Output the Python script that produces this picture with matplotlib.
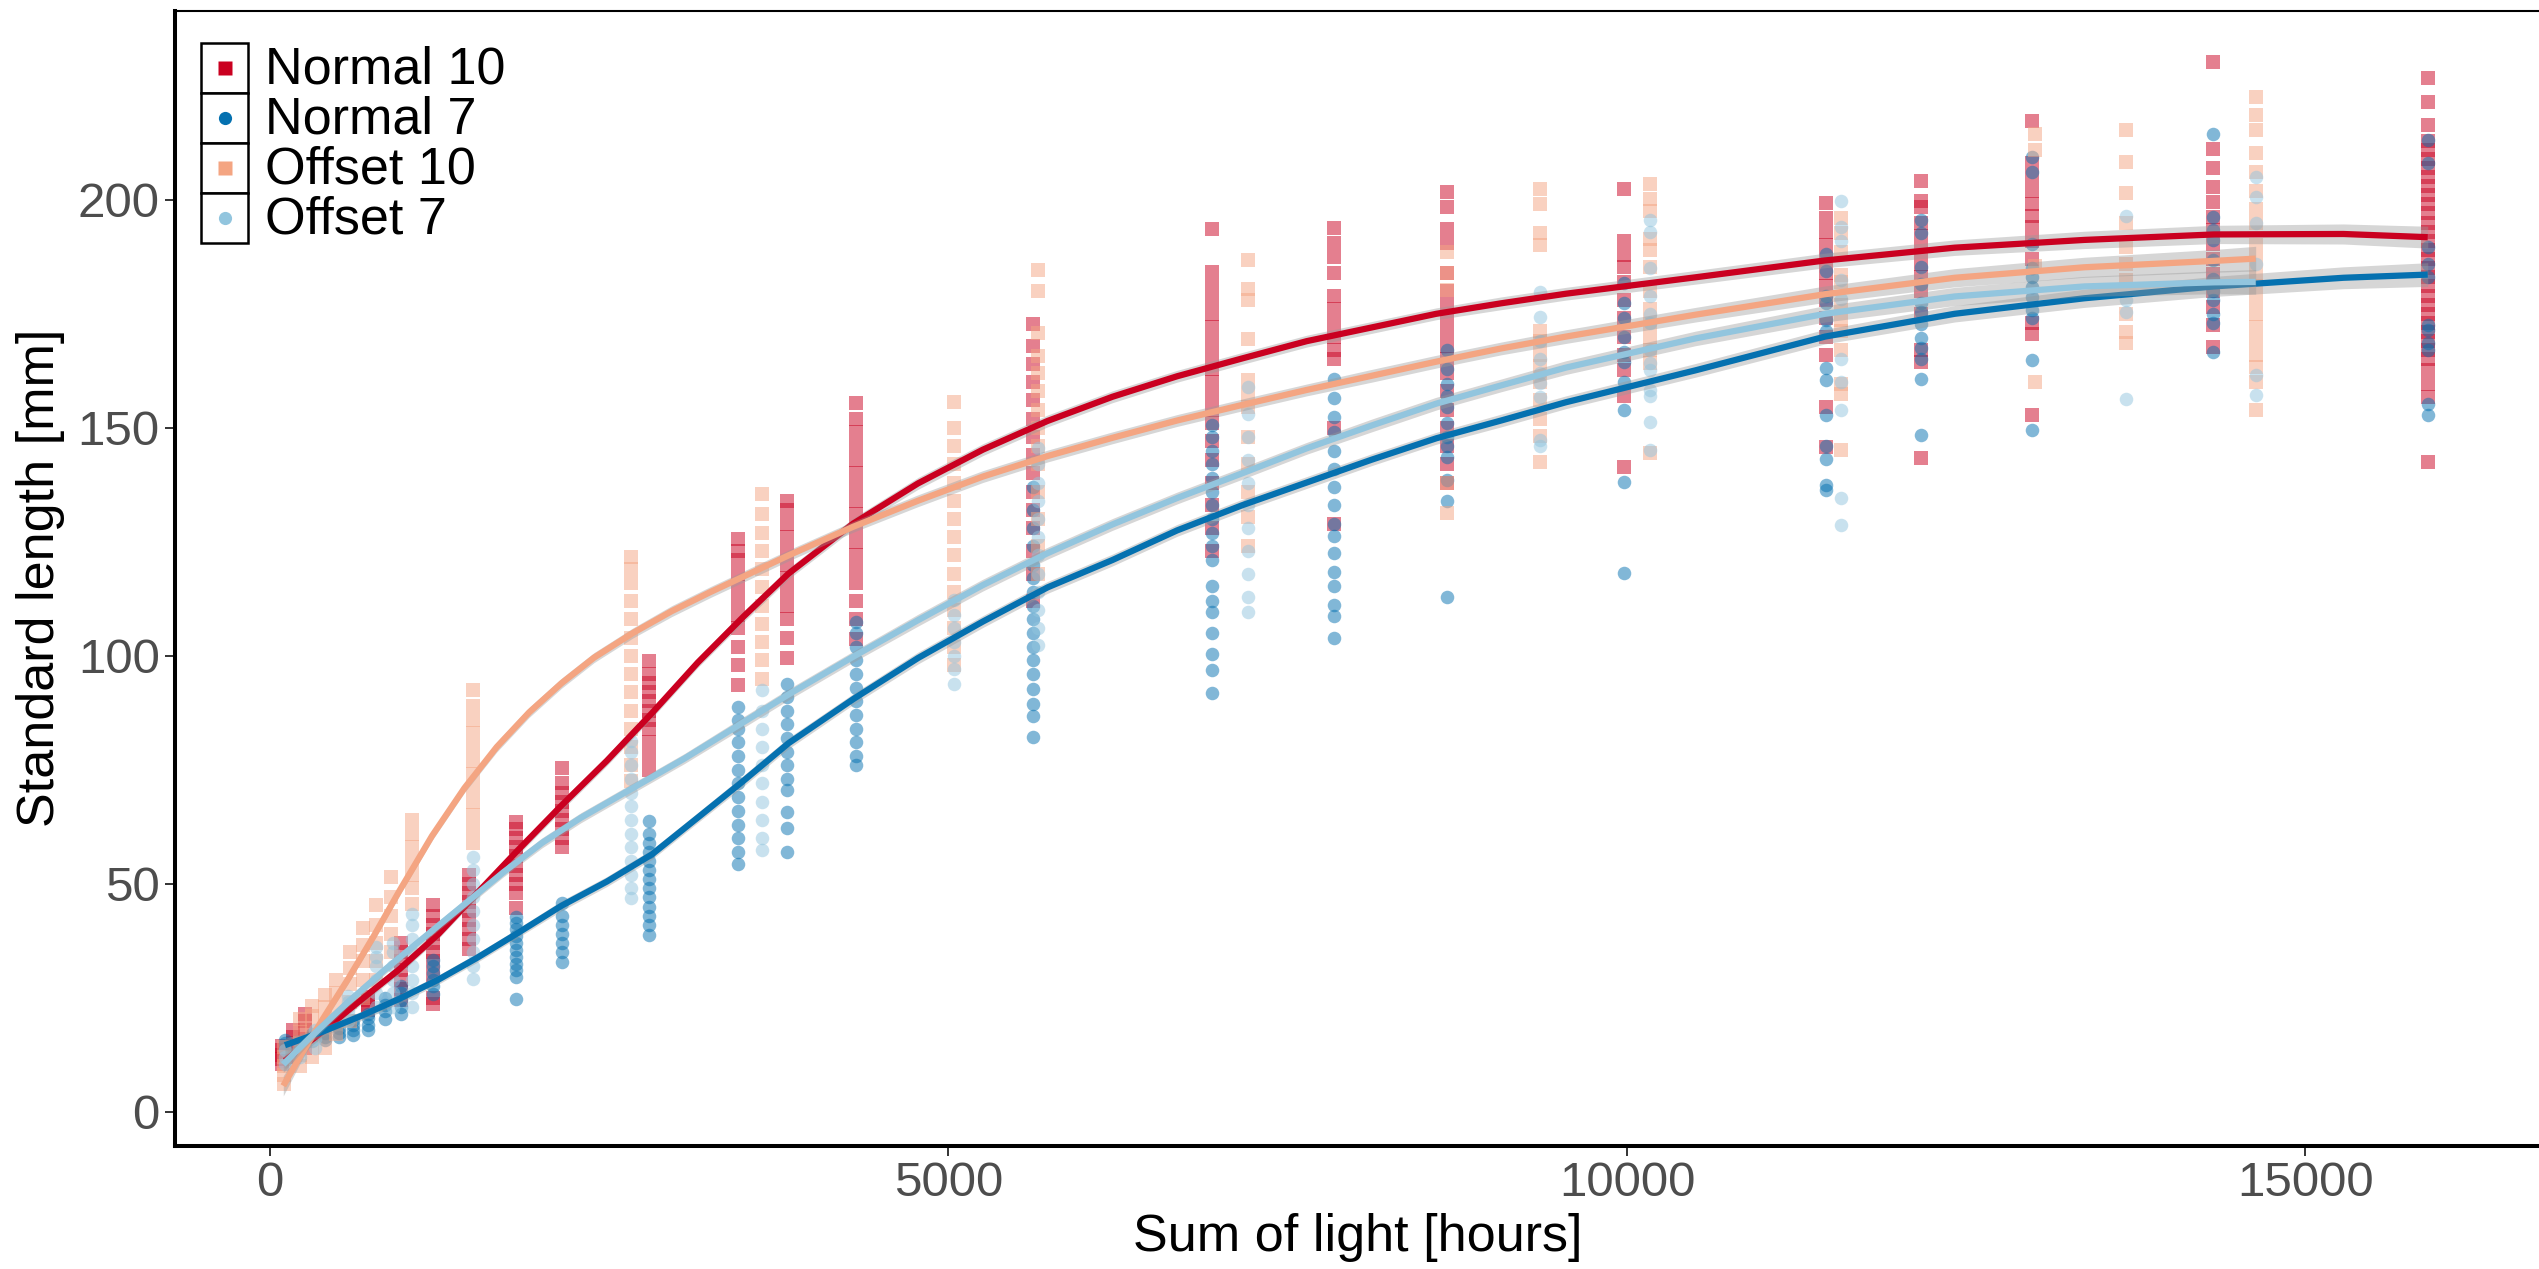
import numpy as np
import matplotlib
matplotlib.use('Agg')
import matplotlib.pyplot as plt
from matplotlib.patches import Rectangle

plt.rcParams['font.family'] = ['Liberation Sans', 'DejaVu Sans']

# ---- data: sampling times (sum of light, hours) and standard lengths (mm) ----
groups = ['Normal 10', 'Normal 7', 'Offset 10', 'Offset 7']

n10_x = [86, 172, 258, 720, 967, 1199, 1469, 1812, 2154, 2791, 3450, 3813, 4322,
         5624, 6945, 7841, 8673, 9980, 11465, 12165, 12988, 14315, 15901]
n10_y = [
    [10.5, 11.5, 12.5, 13.5, 14.5],
    [12, 13.5, 15, 16.5, 18],
    [14, 16, 18, 20, 21.5],
    [22.3, 23.5, 24.5, 25.2],
    [24.5, 27, 29, 31, 33, 35, 37],
    [23.7, 25, 30, 33, 35, 37, 39, 41, 43, 45.3],
    [35.7, 38, 40, 42, 44, 46, 48, 50, 52],
    [44.7, 48, 50, 52, 54, 56, 58, 60, 62, 63.5],
    [58, 60, 62, 64, 66, 68, 70, 72, 75.3],
    [75, 78, 81, 84, 86, 88, 90, 92, 94, 96, 98.9],
    [93.6, 98, 102, 106, 109, 112, 115, 118, 121, 123, 125.7],
    [99.5, 104, 108, 111, 114, 117, 120, 123, 126, 129, 132, 134],
    [103.7, 108, 112, 116, 119, 122, 125, 128, 131, 134, 137, 140, 143, 146, 149, 152, 155.5],
    [112, 118, 123, 128, 132, 136, 140, 144, 148, 152, 156, 160, 164, 168, 172.8],
    [123, 128, 133, 138, 143, 147, 151, 154, 157, 160, 163, 166, 169, 172, 175, 178, 181, 184.2, 193.5],
    [129, 150, 165, 167, 170, 173, 176, 179, 184, 187.5, 190.5, 193.9],
    [138, 142, 146, 150, 154, 158, 162, 165, 168, 171, 174, 177, 180, 184, 190.5, 193.5, 198.5, 201.8],
    [141.3, 157, 162.7, 166, 170, 174, 178, 182, 185.3, 188, 191, 202.4],
    [145.8, 154.5, 166, 170, 174, 178, 181, 184, 187, 190, 193, 196, 199.3],
    [143.3, 164.5, 167, 175, 180, 183, 186, 189, 192, 195, 198.5, 199.8, 204.2],
    [152.8, 170.5, 172.9, 187, 191, 194, 196.5, 199, 202, 205, 208, 217.3],
    [167.8, 172.5, 176.5, 180, 183.8, 187, 190.4, 193.3, 196.3, 199.5, 202.8, 206.9, 211.2, 230.3],
    [142.5, 156.8, 159.7, 162.7, 165, 167, 169, 171, 173, 175, 177, 179, 181, 183, 185, 187,
     189, 191, 193, 195, 197, 199, 201, 203, 205, 207, 209, 211, 213, 216.4, 221.5, 226.6],
]

n7_x = [110, 306, 404, 506, 612, 723, 845, 967, 1199, 1812, 2154, 2791, 3450, 3813, 4322,
        5624, 6945, 7841, 8673, 9980, 11465, 12165, 12988, 14315, 15901]
n7_y = [
    [14, 15, 15.7],
    [15.5, 16.5, 17],
    [15.7, 16.5, 17.2],
    [16.4, 17.3, 18.3],
    [16.8, 18, 19, 20.1],
    [17.9, 19, 20.5, 21.5],
    [20.4, 22, 23.5, 25],
    [21.5, 23, 24.5, 26, 27.5],
    [25.9, 27.5, 29, 30.5, 32, 33.3],
    [24.8, 29.6, 31, 32.5, 34, 35.5, 37, 38.5, 40, 41.5, 42.7],
    [32.9, 35, 37, 39, 41, 43, 45.7],
    [38.8, 41, 43, 45, 47, 49, 51, 53, 55, 57, 59, 61, 63.8],
    [54.3, 57, 60, 63, 66, 69, 72, 75, 78, 81, 84, 86, 88.8],
    [57, 62.3, 65.8, 70.6, 73, 76, 79, 82, 85, 88, 91, 93.8],
    [76, 78, 81, 84, 87, 90, 93, 96, 99, 102, 105, 107.5],
    [82.2, 86.8, 89.4, 92.7, 96, 99, 102, 105, 108, 111, 114, 117, 120, 124, 128, 132, 137],
    [91.9, 96.9, 100.3, 104.9, 109.5, 112, 115.4, 121, 124, 127, 130, 133, 136, 139, 142, 145, 148, 150.6],
    [104, 108.7, 111.2, 115.4, 118.3, 122.5, 126.3, 129, 133, 137, 141, 145, 149, 152.3, 156.5, 160.7],
    [113, 134, 138.5, 143.6, 146, 148, 151, 154.6, 157, 159.7, 163, 167],
    [118.2, 138.2, 153.8, 160, 164.4, 166.7, 170, 174, 177.4, 181.7],
    [136.3, 137.5, 143.2, 145.9, 152.8, 160.5, 163.2, 171.3, 173.6, 177.4, 179, 184.4, 188.2],
    [148.5, 160.6, 165, 167.5, 169.7, 172.8, 175.5, 177.4, 181.6, 185.2, 192.7, 195.5],
    [149.5, 164.9, 174, 175.8, 178.7, 180.9, 183, 185, 190.4, 206, 209.4],
    [166.7, 172.9, 175, 178, 180, 182.7, 186.8, 191.1, 193.3, 196.3, 214.5],
    [152.8, 155.3, 167, 168.5, 171.4, 172.5, 183, 186, 189.7, 208, 213.1],
]

o10_x = [105, 220, 307, 404, 490, 587, 686, 783, 894, 1046, 1494, 2657, 3624, 5044, 5661,
         7204, 8673, 9360, 10170, 11578, 13007, 13676, 14633]
o10_y = [
    [6, 8, 10, 12, 14.3],
    [10, 12.5, 15, 17.5, 20.3],
    [12, 15, 18, 21, 23.3],
    [14, 17, 20, 23, 25.7],
    [17, 20, 23, 26, 28.8],
    [20, 24, 28, 31.5, 35.1],
    [25, 29, 33, 36.5, 40.2],
    [29, 33, 37, 41, 45.3],
    [35, 39, 43, 47, 51.5],
    [45.6, 49, 52, 55, 58, 61, 64],
    [59, 62, 65, 68, 71, 74, 77, 80, 83, 86, 89, 92.6],
    [72.5, 76, 80, 84, 88, 92, 96, 100, 104, 108, 112, 116, 119, 121.7],
    [95, 99, 103, 107, 111, 115, 119, 123, 127, 131, 135.4],
    [98, 102, 106, 110, 114, 118, 122, 126, 130, 134, 138, 142, 146, 150, 155.6],
    [118, 124, 130, 136, 142, 146, 150, 154, 158, 162, 165.7, 170.7, 180, 184.6],
    [124, 130.5, 136, 142, 148, 154.6, 157.5, 160.5, 169.4, 178, 180.5, 186.7],
    [131.4, 137.8, 180.2, 183.9, 188.6],
    [142.4, 148.2, 152, 156, 160, 163.6, 166, 169, 171.3, 190.1, 192.8, 199, 202.4],
    [144.4, 164.2, 167, 170, 173, 176, 180, 185.2, 189, 191.5, 197.5, 200.1, 203.4],
    [145.1, 157.4, 159.7, 167, 171.3, 173.6, 177, 182, 183.6, 188.5, 192.8, 196],
    [160, 185.5, 211, 214.5],
    [168.5, 171, 175, 182.4, 186, 189.7, 194.8, 201.4, 208.3, 215.3],
    [153.9, 160, 163.4, 166, 169, 172, 175, 178, 181, 184, 187, 190, 194.8, 198, 202, 206,
     210.2, 215.3, 218.5, 222.6],
]

o7_x = [109, 220, 334, 573, 783, 906, 1048, 1494, 2657, 3624, 5044, 5661, 7204, 9360,
        10170, 11578, 13676, 14633]
o7_y = [
    [10.5, 12, 13.5],
    [12, 13.5, 15],
    [14, 16, 18],
    [20, 22.2, 24, 25.3],
    [23, 26, 29, 32, 34, 36.2],
    [23, 26, 29, 32, 35, 37],
    [23, 26, 29, 32, 35, 38, 41, 43.3],
    [29.2, 32, 35, 38, 41, 44, 47, 50, 53, 55.8],
    [46.8, 49, 52, 55, 58, 61, 64, 67, 70, 73, 76, 79, 81.3],
    [57.5, 60, 64, 68, 72, 76, 80, 84, 88, 92.6],
    [93.8, 97, 100, 103, 106, 109, 112.2],
    [102.4, 106, 110, 114, 118, 122, 126, 130, 134, 138, 142, 145.6],
    [109.5, 113, 118, 123, 128, 133, 138, 143, 148, 153, 159],
    [145.9, 147.4, 156.7, 159.8, 162, 165, 169, 174.4, 179.7],
    [145.1, 151.3, 157, 158.3, 162.7, 164.1, 167, 172.9, 175, 178.8, 185, 193, 195.5],
    [128.6, 134.6, 154, 160, 165, 178.2, 182.5, 191, 194, 199.8],
    [156.4, 175.4, 178, 196.4],
    [157.3, 161.5, 186, 194.8, 200.6, 205],
]

# fitted growth curves with their confidence half-widths
n10_fit_x = [110, 382, 669, 955, 1242, 1528, 1815, 2149, 2483, 2817, 3152, 3486, 3820, 4298,
             4775, 5253, 5730, 6208, 6685, 7163, 7640, 8118, 8595, 9073, 9550, 10505, 11460,
             12415, 13370, 14325, 15280, 15901]
n10_fit_y = [11.2, 17.5, 24.5, 31.3, 39.0, 48.0, 57.0, 67.2, 77.0, 87.5, 98.5, 108.5, 118.0,
             129.0, 137.8, 145.2, 151.5, 156.8, 161.3, 165.2, 169.0, 172.0, 175.0, 177.3, 179.4,
             183.0, 186.7, 189.5, 191.2, 192.4, 192.5, 191.8]
n10_fit_se = [1.8, 1.1, 1.0, 1.0, 1.0, 1.0, 1.1, 1.1, 1.1, 1.1, 1.1, 1.2, 1.2, 1.2, 1.3, 1.3,
              1.3, 1.3, 1.3, 1.3, 1.3, 1.3, 1.3, 1.4, 1.4, 1.5, 1.6, 1.7, 1.9, 2.0, 2.2, 2.4]

n7_fit_x = [110, 382, 669, 955, 1242, 1528, 1815, 2149, 2483, 2817, 3152, 3486, 3820, 4298,
            4775, 5253, 5730, 6208, 6685, 7163, 7640, 8118, 8595, 9073, 9550, 10505, 11460,
            12415, 13370, 14325, 15280, 15901]
n7_fit_y = [14.6, 17.5, 21.0, 24.8, 29.0, 33.8, 39.0, 45.2, 50.5, 56.5, 64.5, 72.5, 80.8,
            90.5, 99.5, 107.5, 115.0, 121.0, 127.5, 133.0, 138.0, 143.0, 147.7, 151.6, 155.6,
            162.6, 170.0, 175.0, 178.4, 181.0, 182.9, 183.6]
n7_fit_se = [1.5, 1.0, 1.0, 1.0, 1.0, 1.0, 1.0, 1.1, 1.1, 1.1, 1.1, 1.2, 1.2, 1.2, 1.3, 1.3,
             1.3, 1.3, 1.3, 1.3, 1.3, 1.3, 1.3, 1.4, 1.4, 1.5, 1.6, 1.8, 2.0, 2.2, 2.4, 2.6]

o10_fit_x = [98, 239, 382, 573, 764, 955, 1194, 1433, 1671, 1910, 2149, 2388, 2674, 2961,
             3247, 3534, 3820, 4298, 4775, 5253, 5730, 6208, 6685, 7163, 7640, 8118, 8595,
             9073, 9550, 10505, 11460, 12415, 13370, 14325, 14633]
o10_fit_y = [5.7, 13.0, 20.0, 29.0, 38.5, 48.5, 60.5, 71.0, 80.0, 87.6, 94.0, 99.6, 105.0,
             109.8, 114.0, 118.0, 122.0, 128.3, 134.0, 139.3, 143.8, 147.8, 151.6, 155.0,
             158.3, 161.4, 164.5, 167.4, 170.0, 174.8, 179.3, 182.9, 185.2, 186.6, 187.1]
o10_fit_se = [2.2, 1.4, 1.1, 1.0, 1.0, 1.0, 1.0, 1.0, 1.1, 1.1, 1.1, 1.1, 1.1, 1.2, 1.2, 1.2,
              1.2, 1.2, 1.3, 1.3, 1.3, 1.3, 1.3, 1.3, 1.3, 1.4, 1.4, 1.4, 1.5, 1.6, 1.8, 2.0,
              2.2, 2.5, 2.7]

o7_fit_x = [98, 286, 573, 860, 1146, 1433, 1719, 2006, 2292, 2674, 3056, 3438, 3820, 4298,
            4775, 5253, 5730, 6208, 6685, 7163, 7640, 8118, 8595, 9073, 9550, 10505, 11460,
            12415, 13370, 14325, 14633]
o7_fit_y = [10.4, 16.0, 24.0, 31.5, 38.5, 45.5, 52.5, 59.0, 64.5, 71.0, 77.5, 84.5, 91.5,
            99.8, 107.8, 115.5, 122.5, 128.8, 134.6, 140.0, 145.5, 150.5, 155.3, 159.3, 163.2,
            169.6, 175.0, 178.8, 181.0, 181.9, 182.0]
o7_fit_se = [1.8, 1.1, 1.0, 1.0, 1.0, 1.0, 1.0, 1.1, 1.1, 1.1, 1.1, 1.2, 1.2, 1.2, 1.3, 1.3,
             1.3, 1.3, 1.3, 1.3, 1.3, 1.4, 1.4, 1.4, 1.5, 1.6, 1.8, 2.0, 2.2, 2.5, 2.7]

x_ticks = [0, 5000, 10000, 15000]
y_ticks = [0, 50, 100, 150, 200]

colors = ['#CA0020', '#0571B0', '#F4A582', '#92C5DE']
markers = ['s', 'o', 's', 'o']

W, H = 2539, 1269
fig = plt.figure(figsize=(W / 100, H / 100), dpi=100)
ax = fig.add_axes([175 / W, 1 - 1146 / H, (2542 - 175) / W, (1146 - 11) / H])

pts = [(n10_x, n10_y), (n7_x, n7_y), (o10_x, o10_y), (o7_x, o7_y)]
for (xs, ys), c, m in zip(pts, colors, markers):
    fx = [x for x, col in zip(xs, ys) for _ in col]
    fy = [v for col in ys for v in col]
    ax.scatter(fx, fy, s=100 if m == 's' else 95, marker=m, color=c, alpha=0.5,
               linewidths=0, zorder=2)

fits = [(n10_fit_x, n10_fit_y, n10_fit_se), (n7_fit_x, n7_fit_y, n7_fit_se),
        (o10_fit_x, o10_fit_y, o10_fit_se), (o7_fit_x, o7_fit_y, o7_fit_se)]
for i, ((fx, fy, se), c) in enumerate(zip(fits, colors)):
    fx, fy, se = np.array(fx), np.array(fy), np.array(se)
    ax.fill_between(fx, fy - se, fy + se, color='#999999', alpha=0.4, linewidth=0, zorder=3 + i)
    ax.plot(fx, fy, color=c, lw=4.5, zorder=3 + i, solid_capstyle='butt',
            solid_joinstyle='round')

ax.set_xlim(-700, 16743)
ax.set_ylim(-7.5, 241.4)
ax.set_xticks(x_ticks)
ax.set_yticks(y_ticks)
ax.tick_params(axis='both', length=7, width=1.4, color='#333333', labelcolor='#4D4D4D',
               labelsize=35.5, pad=4)
for s in ['left', 'bottom']:
    ax.spines[s].set_linewidth(2.9)
ax.spines['top'].set_linewidth(1.5)
ax.spines['right'].set_visible(False)

fig.text(1358 / W, 1 - 1238 / H, 'Sum of light [hours]', fontsize=37.5, ha='center', va='center')
fig.text(41 / W, 1 - 578 / H, 'Standard length [mm]', fontsize=37.5, rotation=90,
         ha='center', va='center')

# legend in the top-left corner
lax = fig.add_axes([0, 0, 1, 1], zorder=10)
lax.set_xlim(0, W)
lax.set_ylim(H, 0)
lax.axis('off')
for i, (g, c, m) in enumerate(zip(groups, colors, markers)):
    top = 43 + 50 * i
    lax.add_patch(Rectangle((201, top), 47, 50, facecolor='white', edgecolor='black', lw=1.8))
    lax.plot([224.5], [top + 25], marker=m, color=c, markersize=9.5, mec='none')
    lax.text(265, top + 27, g, fontsize=37.5, ha='left', va='center')

fig.savefig('out.png', dpi=100)
